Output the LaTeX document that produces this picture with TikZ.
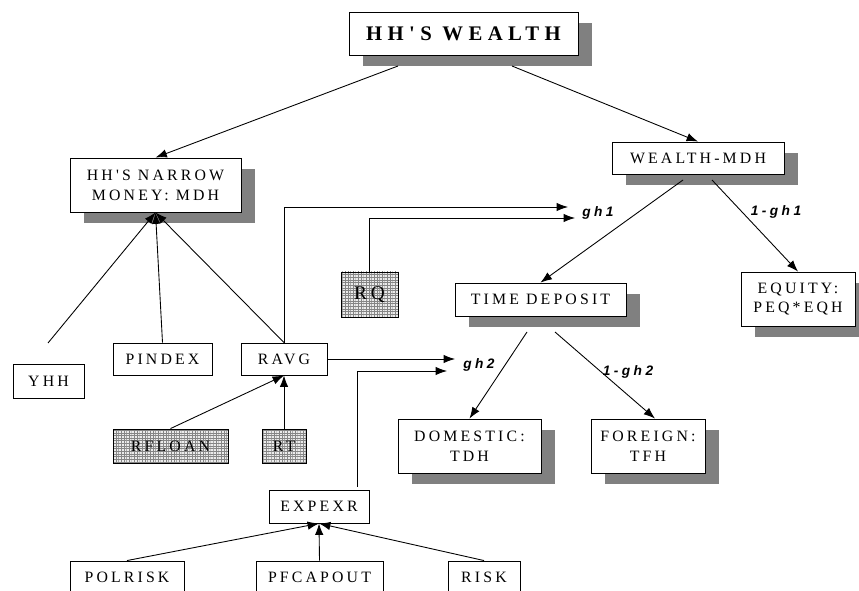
\documentclass[tikz,border=0pt]{standalone}
\usepackage{fontspec}
\setmainfont{Liberation Serif}
\newfontfamily\boxfont{Liberation Serif}[LetterSpace=20]
\newfontfamily\titlefont{Liberation Serif}[LetterSpace=26]
\newfontfamily\lblfont{Liberation Sans}[LetterSpace=25]
\usetikzlibrary{arrows.meta,shadows,patterns.meta,calc}

\tikzdeclarepattern{
  name=finegrid,
  type=uncolored,
  bounding box={(-0.1pt,-0.1pt) and (1.6pt,1.6pt)},
  tile size={(1.5pt,1.5pt)},
  code={
    \draw[line width=0.4pt] (-0.1pt,0pt) -- (1.6pt,0pt) (0pt,-0.1pt) -- (0pt,1.6pt);
  }
}

\begin{document}
\begin{tikzpicture}[x=0.02cm,y=-0.02cm,line width=0.5pt,>={Latex[length=6.5pt,width=4.8pt]},
  box/.style 2 args={draw,fill=white,inner sep=0pt,minimum width=#1*0.02cm,minimum height=#2*0.02cm,
    align=center,font=\boxfont\fontsize{9}{11.3}\selectfont},
  shbox/.style={drop shadow={shadow xshift=0.28cm,shadow yshift=-0.22cm,fill=black!50,opacity=1}},
  texbox/.style={preaction={fill=black!8},pattern=finegrid,pattern color=black!48},
  lbl/.style={font=\lblfont\bfseries\itshape\fontsize{7.8}{9}\selectfont}]
\useasboundingbox (0,0) rectangle (859,591);
\clip (0,0) rectangle (859,591);

% boxes with shadow
\node[box={229}{43},shbox,font=\titlefont\bfseries\fontsize{11.8}{13}\selectfont] (wealth) at (463.5,33.5) {HH'S WEALTH};
\node[box={171}{54},shbox] (mdh) at (155.5,185) {HH'S NARROW\\MONEY: MDH};
\node[box={172}{32},shbox] (wmdh) at (698,158) {WEALTH-MDH};
\node[box={171}{33},shbox] (timedep) at (540.5,299.5) {TIME DEPOSIT};
\node[box={114}{54},shbox] (equity) at (798,299) {EQUITY:\\PEQ*EQH};
\node[box={143}{54},shbox] (domestic) at (469.5,446) {DOMESTIC:\\TDH};
\node[box={114}{54},shbox] (foreign) at (648,446) {FOREIGN:\\TFH};

% plain boxes
\node[box={71}{34}] (yhh) at (48.5,381) {YHH};
\node[box={99}{32}] (pindex) at (162.5,359) {PINDEX};
\node[box={86}{32}] (ravg) at (284,359) {RAVG};
\node[box={100}{33}] (expexr) at (319,506.5) {EXPEXR};
\node[box={114}{33}] (polrisk) at (127,577.5) {POLRISK};
\node[box={127}{33}] (pfcapout) at (319.5,577.5) {PFCAPOUT};
\node[box={72}{33}] (risk) at (484,577.5) {RISK};

% textured boxes
\node[box={57}{45},texbox,font=\boxfont\fontsize{11}{13}\selectfont] (rq) at (369.5,294.5) {RQ};
\node[box={115}{34},texbox] (rfloan) at (170.5,446) {RFLOAN};
\node[box={44}{34},texbox] (rt) at (284,446) {RT};

% share labels
\node[lbl] (gh1) at (598,213) {gh1};
\node[lbl] (onegh1) at (776,212) {1-gh1};
\node[lbl] (gh2) at (479,365) {gh2};
\node[lbl] (onegh2) at (628,372) {1-gh2};

% free ends
\coordinate (w1) at (398,66);
\coordinate (w2) at (512,66);
\coordinate (m1) at (683,180);
\coordinate (m2) at (712,180);
\coordinate (t1) at (527,332);
\coordinate (t2) at (555,332);
\coordinate (yhhend) at (48,343);
\coordinate (gh1a) at (568,207);
\coordinate (gh1b) at (575,218);
\coordinate (gh2a) at (455,359);
\coordinate (gh2b) at (447,371);

% tree
\draw[->] (w1) -- (mdh.north);
\draw[->] (w2) -- (wmdh.north);
\draw[->] (m1) -- (timedep.north);
\draw[->] (m2) -- (equity.north);
\draw[->] (t1) -- (domestic.north);
\draw[->] (t2) -- ($(foreign.north)+(7,0)$);

% into money demand
\draw[->] (yhhend) -- (mdh.south);
\draw[->] (pindex.north) -- (mdh.south);
\draw[->] (ravg.north) -- (mdh.south);

% into rates
\draw[->] (rfloan.north) -- (ravg.south);
\draw[->] (rt.north) -- (ravg.south);
\draw[->] (polrisk.north) -- (expexr.south);
\draw[->] (pfcapout.north) -- (expexr.south);
\draw[->] (risk.north) -- (expexr.south);

% into shares
\draw[->] (ravg.north) |- (gh1a);
\draw[->] (rq.north) |- (gh1b);
\draw[->] (ravg.east) -- (gh2a);
\draw[->] ($(expexr.north)+(38,-3)$) |- (gh2b);
\end{tikzpicture}
\end{document}
